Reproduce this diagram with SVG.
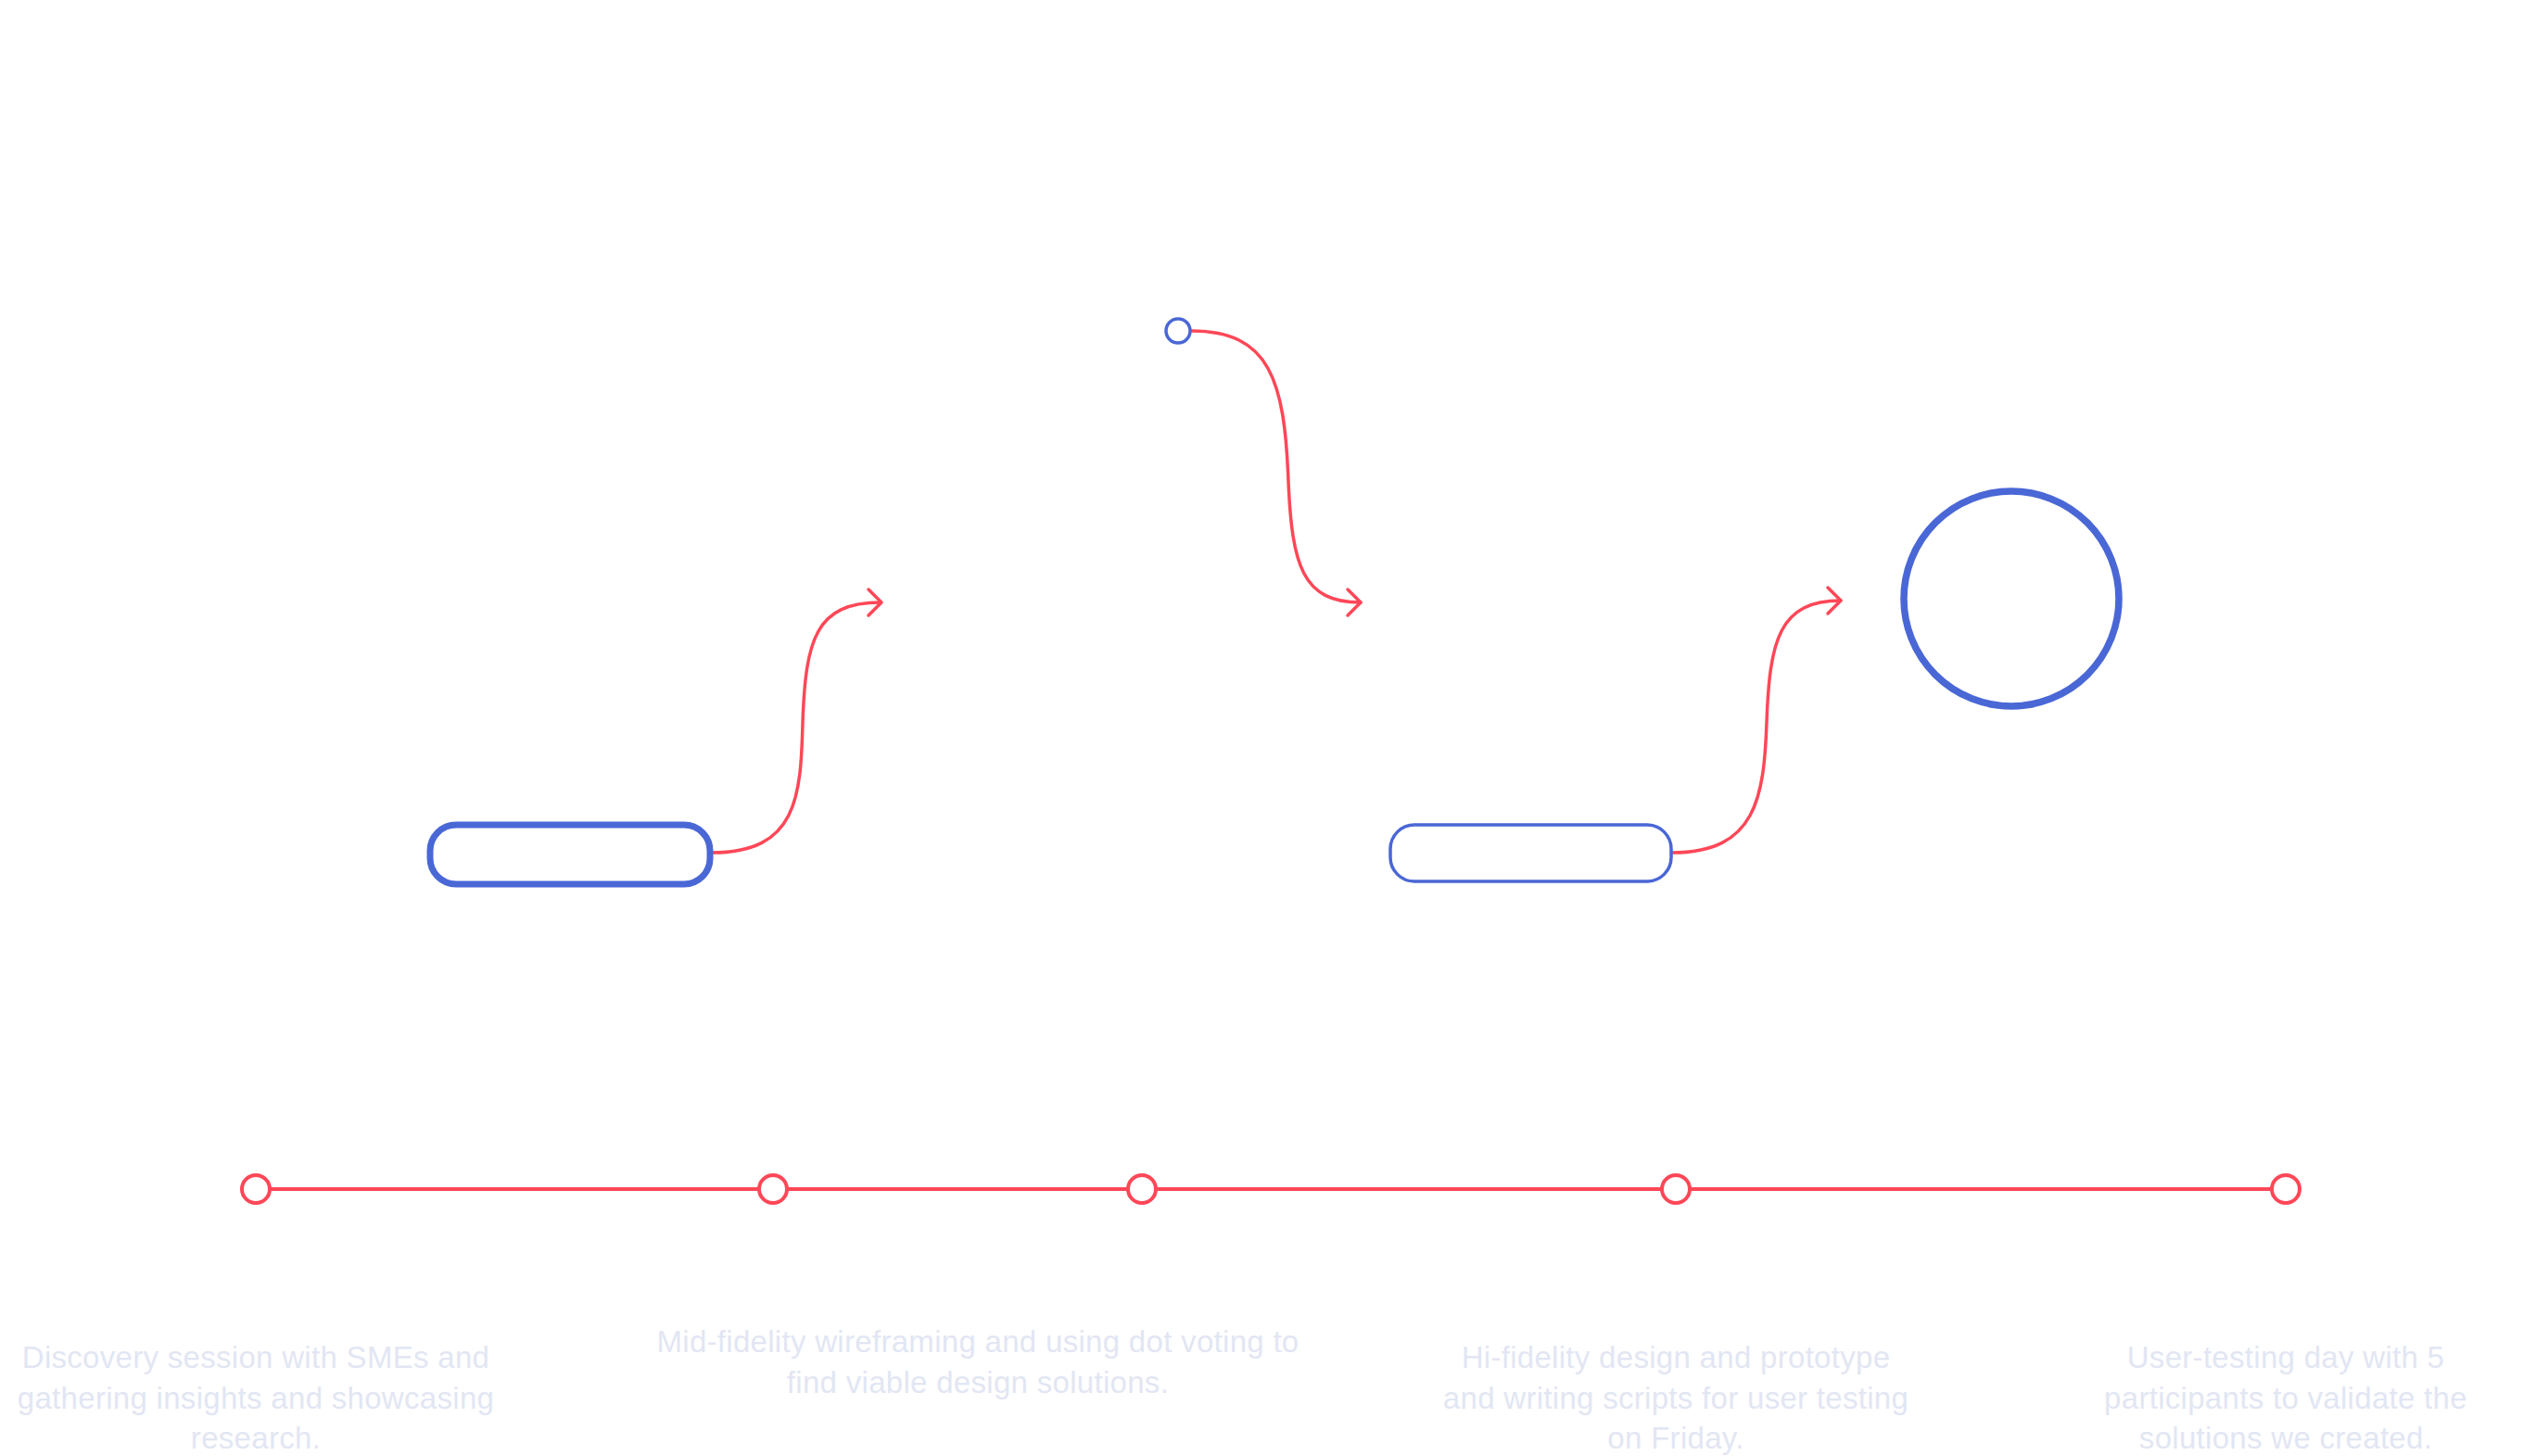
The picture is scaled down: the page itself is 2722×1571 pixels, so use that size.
<svg xmlns="http://www.w3.org/2000/svg" width="2722" height="1571" viewBox="0 0 2722 1571">
<style>
.blue{fill:#fff;stroke:#4a67d6}
.con{fill:none;stroke:#ff4757;stroke-width:3.5;stroke-linecap:round;stroke-linejoin:round}
.tl{fill:#fff;stroke:#ff4757;stroke-width:4}
.lbl{font-family:"Liberation Sans",Arial,sans-serif;font-size:33px;fill:#e2e6f3;text-anchor:middle;letter-spacing:0.3px}
</style>
<rect width="2722" height="1571" fill="#fff"/>
<g id="connectors">
<path class="con" d="M768 920 C860 920 864 860 866 780 C869 690 880 650 950 650"/>
<path class="con" d="M937 636 L951 650 L937 664"/>
<path class="con" d="M1285 357 C1370 357 1386 410 1390 520 C1394 610 1405 650 1468 650"/>
<path class="con" d="M1454 636 L1468 650 L1454 664"/>
<path class="con" d="M1804 920 C1895 920 1903 860 1906 780 C1909 690 1920 648 1986 648"/>
<path class="con" d="M1972 634 L1986 648 L1972 662"/>
<line x1="276" y1="1283" x2="2466" y2="1283" stroke="#ff4757" stroke-width="4"/>
</g>
<g id="node-rect1"><rect class="blue" x="464" y="890" width="302" height="64" rx="28" stroke-width="7"/></g>
<g id="node-dot"><circle class="blue" cx="1271" cy="357" r="13" stroke-width="3.5"/></g>
<g id="node-rect2"><rect class="blue" x="1500" y="890" width="303" height="61" rx="26" stroke-width="3.5"/></g>
<g id="node-circle"><circle class="blue" cx="2170" cy="646" r="116" stroke-width="7.5"/></g>
<g id="timeline">
<circle class="tl" cx="276" cy="1283" r="15"/>
<circle class="tl" cx="834" cy="1283" r="15"/>
<circle class="tl" cx="1232" cy="1283" r="15"/>
<circle class="tl" cx="1808" cy="1283" r="15"/>
<circle class="tl" cx="2466" cy="1283" r="15"/>
</g>
<g id="labels">
<text class="lbl" x="276" y="1476">Discovery session with SMEs and</text>
<text class="lbl" x="276" y="1520">gathering insights and showcasing</text>
<text class="lbl" x="276" y="1563">research.</text>
<text class="lbl" x="1055" y="1459">Mid-fidelity wireframing and using dot voting to</text>
<text class="lbl" x="1055" y="1503">find viable design solutions.</text>
<text class="lbl" x="1808" y="1476">Hi-fidelity design and prototype</text>
<text class="lbl" x="1808" y="1520">and writing scripts for user testing</text>
<text class="lbl" x="1808" y="1563">on Friday.</text>
<text class="lbl" x="2466" y="1476">User-testing day with 5</text>
<text class="lbl" x="2466" y="1520">participants to validate the</text>
<text class="lbl" x="2466" y="1563">solutions we created.</text>
</g>
</svg>
